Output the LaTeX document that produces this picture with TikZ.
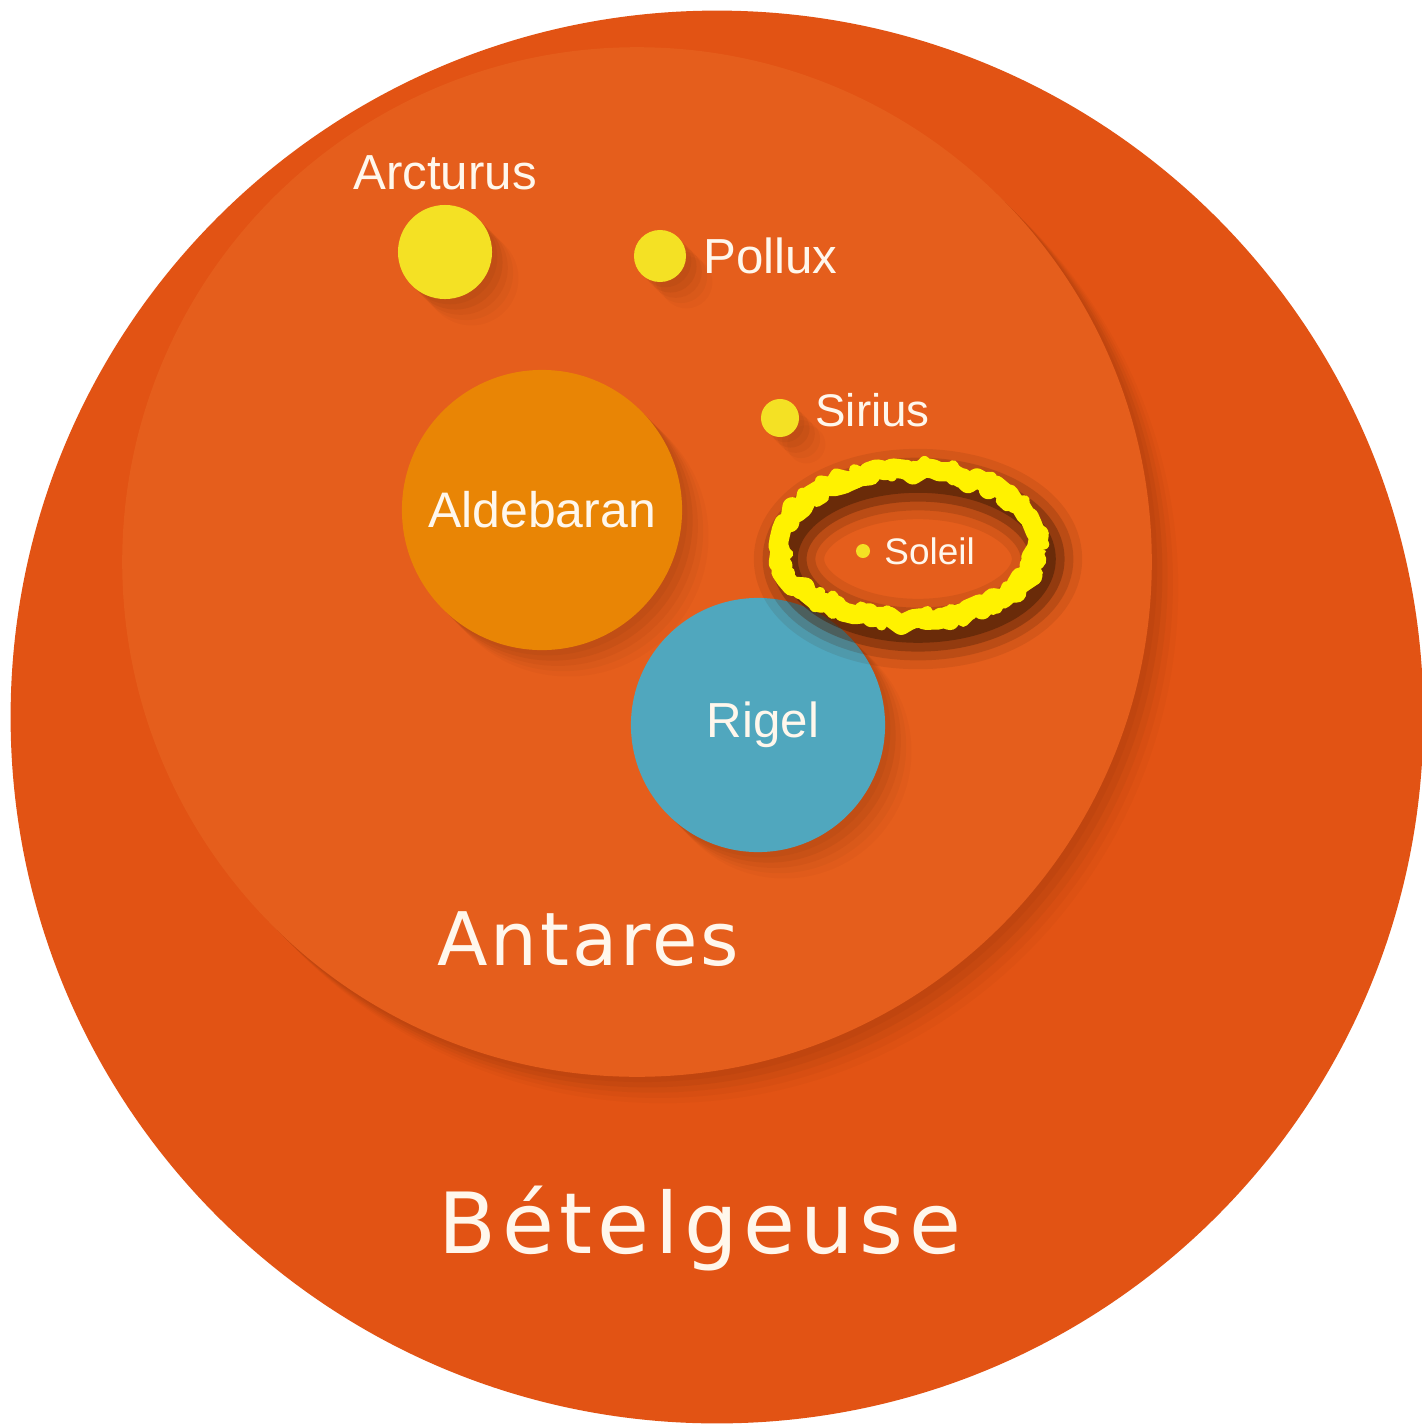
\documentclass[tikz,border=0pt]{standalone}
\usepackage{fontspec}
\setmainfont{Liberation Sans}
\newfontfamily\titlefont[LetterSpace=4]{DejaVu Sans}
\newfontfamily\betelfont[LetterSpace=6.5]{DejaVu Sans}
\usetikzlibrary{positioning,shapes.geometric,shadows,decorations.pathmorphing}

\definecolor{betelorange}{HTML}{E25314}
\definecolor{antaorange}{HTML}{E55E1C}
\definecolor{aldeorange}{HTML}{E98505}
\definecolor{rigelblue}{HTML}{50A7BE}
\definecolor{staryellow}{HTML}{F4E124}
\definecolor{markyellow}{HTML}{FFF200}
\definecolor{labelwhite}{HTML}{FFF7EC}
\definecolor{shadowbrown}{HTML}{4A1E05}

\begin{document}
\begin{tikzpicture}[x=0.01cm, y=-0.01cm,
    softshade/.style={drop shadow={shadow xshift=1.5pt, shadow yshift=-1.5pt, opacity=.06, fill=shadowbrown},
                      drop shadow={shadow xshift=3pt, shadow yshift=-3pt, opacity=.06, fill=shadowbrown},
                      drop shadow={shadow xshift=4.5pt, shadow yshift=-4.5pt, opacity=.05, fill=shadowbrown},
                      drop shadow={shadow xshift=6pt, shadow yshift=-6pt, opacity=.04, fill=shadowbrown},
                      drop shadow={shadow xshift=7.5pt, shadow yshift=-7.5pt, opacity=.03, fill=shadowbrown}},
    star/.style={circle, inner sep=0pt, softshade},
    lbl/.style={text=labelwhite, inner sep=0pt, font=\fontsize{14}{17}\selectfont},
    biglbl/.style={text=labelwhite, inner sep=0pt, anchor=base},
    ring/.style={ellipse, minimum width=2.58cm, minimum height=1.5cm, draw=markyellow, line join=round, decorate}
]
\useasboundingbox (0,0) rectangle (1422,1424);
\clip (0,0) rectangle (1422,1424);
\fill[white] (0,0) rectangle (1422,1424);

\node[circle, fill=betelorange, minimum size=14.12cm] (betel) at (717,717) {};
\node[circle, fill=antaorange, minimum size=10.29cm, softshade] (antares) at (637,562) {};

\node[star, fill=aldeorange, minimum size=2.8cm, lbl, font=\fontsize{14.2}{17}\selectfont] (aldebaran) at (542,510) {Aldebaran};
\node[star, fill=rigelblue, minimum size=2.54cm, lbl] (rigel) at (758,725) {\hspace{0.1cm}Rigel};

\node[star, fill=staryellow, minimum size=0.94cm] (arcturus) at (445,252) {};
\node[star, fill=staryellow, minimum size=0.52cm] (pollux) at (660,256) {};
\node[star, fill=staryellow, minimum size=0.38cm] (sirius) at (780,418) {};
\node[circle, inner sep=0pt, fill=staryellow, minimum size=0.14cm] (soleil) at (863,551) {};

\node[lbl, above=0.14cm of arcturus] (arcturuslbl) {Arcturus};
\node[lbl, right=0.16cm of pollux] (polluxlbl) {Pollux};
\node[lbl, right=0.15cm of sirius, yshift=0.08cm, font=\fontsize{13}{16}\selectfont] (siriuslbl) {Sirius};
\node[lbl, right=0.13cm of soleil, font=\fontsize{10.5}{13}\selectfont] (soleillbl) {Soleil};

\node[biglbl, font=\titlefont\fontsize{21}{25}\selectfont] (antareslbl) at (588,965) {Antares};
\node[biglbl, font=\betelfont\fontsize{24}{29}\selectfont] (betellbl) at (700,1253) {Bételgeuse};

\foreach \w/\o in {20/.10, 15/.18, 10/.35, 5/.55}
  \draw[shadowbrown, line width=\w pt, opacity=\o] (918,559) ellipse [x radius=129, y radius=75];
\node[ring, line width=5.5pt, decoration={random steps, segment length=2pt, amplitude=1.4pt}] (circled) at (908,546) {};
\node[ring, line width=3pt, decoration={random steps, segment length=1.5pt, amplitude=2.6pt}] (circledrough) at (909,545) {};
\end{tikzpicture}
\end{document}
